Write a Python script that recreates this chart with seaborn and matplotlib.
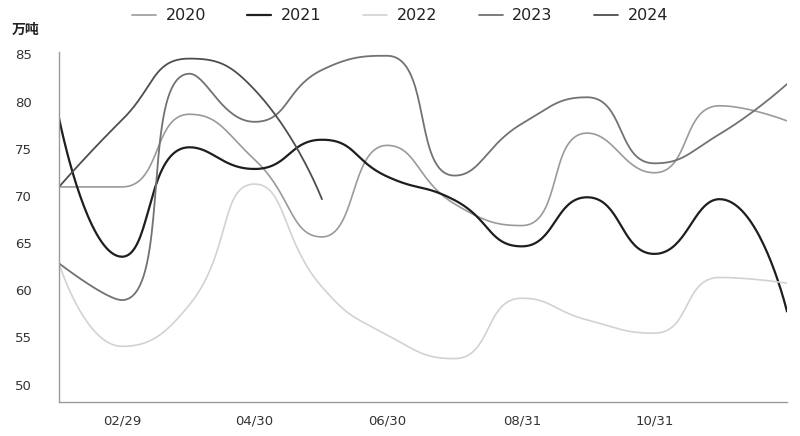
import numpy as np
import pandas as pd
import matplotlib
matplotlib.use("Agg")
import matplotlib.pyplot as plt
import matplotlib.transforms as mtransforms
import seaborn as sns

# month-end dates (x axis)
months = ["2024-01-31", "2024-02-29", "2024-03-31", "2024-04-30", "2024-05-31", "2024-06-30",
          "2024-07-31", "2024-08-31", "2024-09-30", "2024-10-31", "2024-11-30", "2024-12-31"]
tick_dates = ["2024-02-29", "2024-04-30", "2024-06-30", "2024-08-31", "2024-10-31"]
tick_labels = ["02/29", "04/30", "06/30", "08/31", "10/31"]

years = ["2020", "2021", "2022", "2023", "2024"]
v2020 = [71.7, 71.7, 79.4, 74.6, 66.4, 76.1, 69.9, 67.6, 77.4, 73.2, 80.3, 78.7]
v2021 = [79.0, 64.3, 75.9, 73.6, 76.7, 72.8, 70.3, 65.4, 70.6, 64.6, 70.4, 58.5]
v2022 = [63.6, 54.8, 59.2, 72.0, 61.1, 56.0, 53.5, 59.9, 57.6, 56.2, 62.1, 61.5]
v2023 = [63.6, 59.7, 83.7, 78.6, 84.1, 85.6, 72.9, 78.4, 81.2, 74.2, 77.3, 82.6]
v2024 = [71.7, 78.8, 85.3, 82.0, 70.4]
series = [v2020, v2021, v2022, v2023, v2024]

colors = ["#9a9a9a", "#1e1e1e", "#d2d2d2", "#727272", "#4e4e4e"]
widths = [1.2, 1.6, 1.2, 1.3, 1.3]

sns.set_style("white")
plt.rcParams["font.family"] = ["DejaVu Sans", "Noto Sans CJK SC"]

dates = pd.to_datetime(months)
days = (dates - dates[0]).days.values.astype(float)
tick_days = (pd.to_datetime(tick_dates) - dates[0]).days.values


def clamp(v, a, b):
    return min(max(v, min(a, b)), max(a, b))


def smooth_curve(ax, xd, yd, smooth=0.5, n=40):
    # echarts-style smoothed line, computed in display space
    pts = ax.transData.transform(np.column_stack([xd, yd]))
    px, py = pts[:, 0], pts[:, 1]
    m = len(px)
    out = [pts[0]]
    cp0 = pts[0].copy()
    t = np.linspace(0, 1, n)[1:]
    for k in range(1, m):
        x, y = px[k], py[k]
        prx, pry = px[k - 1], py[k - 1]
        nxt = None
        if k == m - 1:
            cp1 = np.array([x, y])
        else:
            nx, ny = px[k + 1], py[k + 1]
            vx, vy = nx - prx, ny - pry
            lp = np.hypot(x - prx, y - pry)
            ln = np.hypot(nx - x, ny - y)
            r = ln / (ln + lp)
            ncx = clamp(x + vx * smooth * r, x, nx)
            ncy = clamp(y + vy * smooth * r, y, ny)
            vx, vy = ncx - x, ncy - y
            c1x = clamp(x - vx * lp / ln, prx, x)
            c1y = clamp(y - vy * lp / ln, pry, y)
            vx, vy = x - c1x, y - c1y
            nxt = np.array([x + vx * ln / lp, y + vy * ln / lp])
            cp1 = np.array([c1x, c1y])
        p0 = np.array([prx, pry])
        p3 = np.array([x, y])
        seg = (((1 - t) ** 3)[:, None] * p0 + (3 * (1 - t) ** 2 * t)[:, None] * cp0
               + (3 * (1 - t) * t ** 2)[:, None] * cp1 + (t ** 3)[:, None] * p3)
        out.extend(seg)
        cp0 = nxt
    data = ax.transData.inverted().transform(np.array(out))
    return data[:, 0], data[:, 1]


fig = plt.figure(figsize=(8, 4.36), dpi=100)
ax = fig.add_axes([59 / 800, 1 - 402 / 436, (787 - 59) / 800, (402 - 52) / 436])
xlim = (0, days[-1])
ylim = (48.9, 86.0)
ax.set_xlim(xlim)
ax.set_ylim(ylim)

for name, vals, c, lw in zip(years, series, colors, widths):
    sx, sy = smooth_curve(ax, days[:len(vals)], vals)
    sns.lineplot(x=sx, y=sy, ax=ax, color=c, linewidth=lw, sort=False,
                 estimator=None, label=name)

ax.set_xlim(xlim)
ax.set_ylim(ylim)

handles, labels = ax.get_legend_handles_labels()
ax.get_legend().remove()
fig.legend(handles, labels, loc="center", bbox_to_anchor=(0.5, 1 - 16 / 436), ncol=5,
           frameon=False, fontsize=11.5, handlelength=1.5, handletextpad=0.6,
           columnspacing=2.6, labelcolor="#222222")

ax.set_yticks([50, 55, 60, 65, 70, 75, 80, 85])
ax.set_xticks(tick_days)
ax.set_xticklabels(tick_labels)
ax.tick_params(axis="both", direction="in", length=6, width=1, color="#9a9a9a",
               labelsize=9.5, labelcolor="#333333")
ax.tick_params(axis="y", pad=31.5)
ax.tick_params(axis="x", pad=9)
for lab in ax.get_yticklabels():
    lab.set_horizontalalignment("left")
    lab.set_transform(lab.get_transform() + mtransforms.ScaledTranslation(0, 7 / 100, fig.dpi_scale_trans))

for side in ["top", "right"]:
    ax.spines[side].set_visible(False)
for side in ["left", "bottom"]:
    ax.spines[side].set_color("#9a9a9a")
    ax.spines[side].set_linewidth(1)

fig.text(12 / 800, 1 - 30 / 436, "万吨", fontsize=10, color="#222222", va="center",
         ha="left", fontweight="bold")

fig.savefig("out.png", dpi=100)
